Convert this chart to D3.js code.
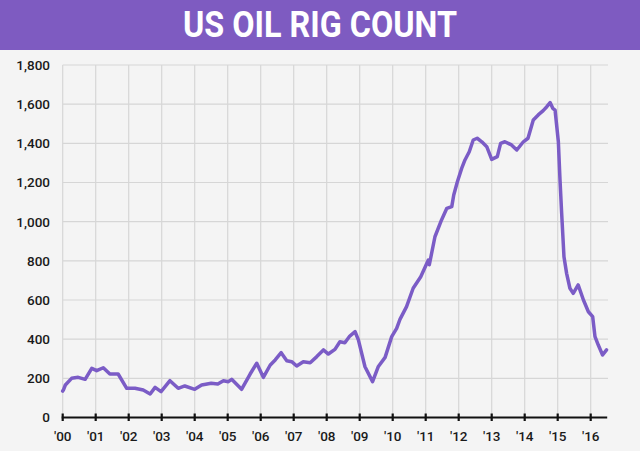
<!DOCTYPE html>
<html>
<head>
<meta charset="utf-8">
<script src="https://cdn.jsdelivr.net/npm/d3@7"></script>
<style>
  html,body{margin:0;padding:0;background:#f4f4f4;}
  svg{display:block;}
</style>
</head>
<body>
<svg id="chart" width="640" height="451"></svg>
<script>
const title = "US OIL RIG COUNT";
const yTicks = [0, 200, 400, 600, 800, 1000, 1200, 1400, 1600, 1800];
const xTickYears = [2000,2001,2002,2003,2004,2005,2006,2007,2008,2009,2010,2011,2012,2013,2014,2015,2016];
const xTickLabels = ["'00","'01","'02","'03","'04","'05","'06","'07","'08","'09","'10","'11","'12","'13","'14","'15","'16"];

const dates = [
 2000.00,2000.02,2000.08,2000.27,2000.47,2000.68,2000.88,2001.03,2001.23,2001.43,2001.68,2001.94,
 2002.19,2002.44,2002.65,2002.80,2002.98,2003.25,2003.50,2003.70,2004.00,2004.21,2004.50,2004.70,
 2004.87,2005.02,2005.12,2005.42,2005.68,2005.88,2006.08,2006.29,2006.44,2006.62,2006.79,2006.94,
 2007.09,2007.29,2007.50,2007.70,2007.90,2008.05,2008.25,2008.40,2008.55,2008.70,2008.86,2008.96,
 2009.16,2009.39,2009.56,2009.77,2009.97,2010.12,2010.22,2010.42,2010.62,2010.85,2011.08,2011.11,
 2011.28,2011.48,2011.64,2011.79,2011.85,2011.96,2012.09,2012.19,2012.32,2012.44,2012.56,2012.70,
 2012.85,2013.00,2013.17,2013.27,2013.40,2013.60,2013.76,2013.96,2014.10,2014.26,2014.41,2014.56,
 2014.67,2014.77,2014.85,2014.92,2015.02,2015.07,2015.12,2015.19,2015.27,2015.37,2015.47,2015.62,
 2015.78,2015.93,2016.06,2016.13,2016.23,2016.36,2016.48
];
const rigs = [
 135,140,166,200,205,195,251,239,254,222,222,149,
 149,140,120,154,132,188,149,161,144,166,175,171,
 188,183,195,144,222,277,205,268,294,331,290,285,
 263,285,280,311,345,324,348,387,382,416,438,396,
 259,183,259,307,413,455,501,566,660,719,804,780,
 923,1009,1068,1077,1136,1204,1272,1315,1357,1417,1426,1408,
 1383,1318,1332,1400,1408,1392,1366,1408,1426,1519,1545,1567,
 1587,1608,1579,1570,1408,1213,1043,821,736,660,634,677,
 600,540,515,413,370,319,345
];

const W = 640, H = 451;
const svg = d3.select("#chart");
svg.append("rect").attr("width", W).attr("height", H).attr("fill", "#f4f4f4");

// title bar
svg.append("rect").attr("x",0).attr("y",0).attr("width",W).attr("height",50).attr("fill","#7e5bc1");
svg.append("text").attr("x",320).attr("y",37).attr("text-anchor","middle")
  .attr("fill","#fff").attr("font-family","'Liberation Sans Narrow','Roboto',sans-serif")
  .attr("font-weight","bold").attr("font-size",36)
  .attr("textLength",274).attr("lengthAdjust","spacingAndGlyphs")
  .text(title);

const x = d3.scaleLinear().domain([2000, 2016.5]).range([62.7, 607.2]);
const y = d3.scaleLinear().domain([0, 1800]).range([417.5, 65]);

// grid
const g = svg.append("g");
g.selectAll(".hg").data(yTicks.filter(d=>d>0)).enter().append("line")
  .attr("x1", x(2000)).attr("x2", 608).attr("y1", d=>y(d)).attr("y2", d=>y(d))
  .attr("stroke","#d6d6d6").attr("stroke-width",1.2);
g.selectAll(".vg").data(xTickYears).enter().append("line")
  .attr("x1", d=>x(d)).attr("x2", d=>x(d)).attr("y1", y(1800)).attr("y2", y(0))
  .attr("stroke","#d6d6d6").attr("stroke-width",1.2);

// y labels
svg.selectAll(".yl").data(yTicks).enter().append("text")
  .attr("x", 50).attr("y", d=>y(d)).attr("dy","0.36em").attr("text-anchor","end")
  .attr("font-family","Roboto, sans-serif").attr("font-size",13.5).attr("font-weight",500).attr("fill","#1a1a1a")
  .text(d=>d3.format(",")(d));

// line
const pts = dates.map((d,i)=>[d, rigs[i]]);
svg.append("path").datum(pts)
  .attr("d", d3.line().x(d=>x(d[0])).y(d=>y(d[1])).curve(d3.curveLinear))
  .attr("fill","none").attr("stroke","#7b5cc6").attr("stroke-width",3.5)
  .attr("stroke-linejoin","round").attr("stroke-linecap","round");

// x axis
svg.append("line").attr("x1", x(2000)-1).attr("x2", x(2016.5)).attr("y1", y(0)).attr("y2", y(0))
  .attr("stroke","#111").attr("stroke-width",2.2);
svg.selectAll(".xt").data(xTickYears).enter().append("line")
  .attr("x1", d=>x(d)).attr("x2", d=>x(d)).attr("y1", y(0)-4).attr("y2", y(0)+3.5)
  .attr("stroke","#111").attr("stroke-width",2.2);
svg.selectAll(".xl").data(xTickYears).enter().append("text")
  .attr("x", d=>x(d)).attr("y", 441).attr("text-anchor","middle")
  .attr("font-family","Roboto, sans-serif").attr("font-size",13.5).attr("font-weight",500).attr("fill","#1a1a1a")
  .text((d,i)=>xTickLabels[i]);
</script>
</body>
</html>
